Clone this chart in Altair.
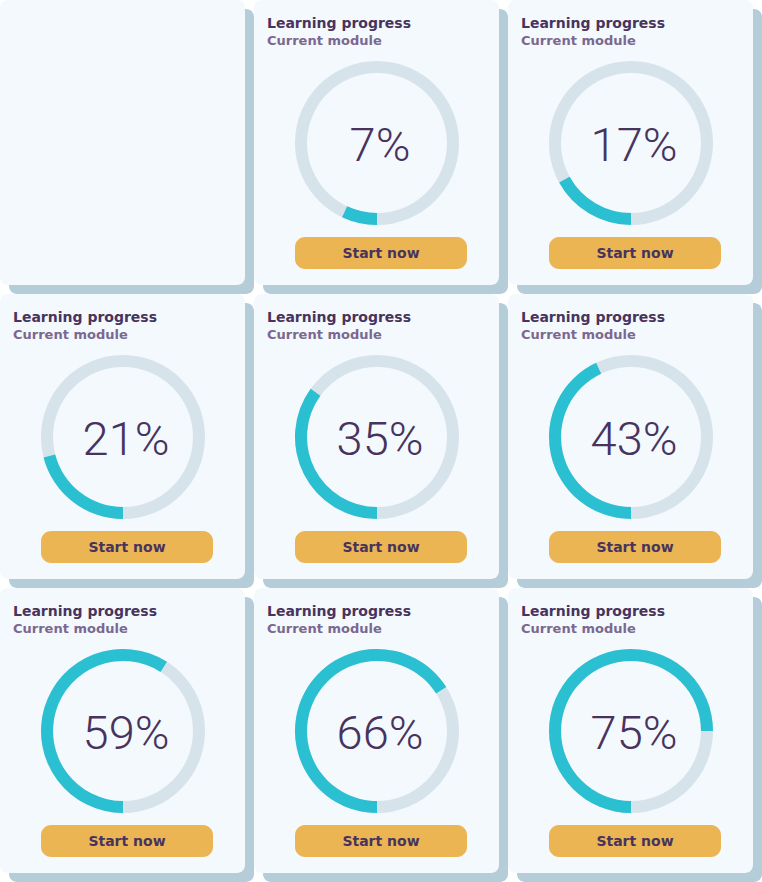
import math
import altair as alt
import pandas as pd

# ---- data -------------------------------------------------------------
card_values = [None, 7, 17, 21, 35, 43, 59, 66, 75]   # first card is empty
title_line1 = "Learning progress"
title_line2 = "Current module"
button_label = "Start now"

# ---- style ------------------------------------------------------------
CELL_W, CELL_H = 254, 294
CARD_W, CARD_H = 245, 285
SHADOW = 9
CARD_BG = "#f3f9fd"
SHADOW_C = "#b5cdd9"
RING_BG = "#d7e3ea"
RING_FG = "#2bbfd2"
DARK = "#48335e"
LIGHT = "#7b6891"
BTN = "#ebb554"
RING_CX, RING_CY = 123, 143
R_OUT, R_IN = 82, 70


def card(v):
    one = pd.DataFrame({"k": [0]})
    shadow = alt.Chart(one).mark_rect(color=SHADOW_C, cornerRadius=8).encode(
        x=alt.value(SHADOW), x2=alt.value(SHADOW + CARD_W),
        y=alt.value(SHADOW), y2=alt.value(SHADOW + CARD_H))
    bg = alt.Chart(one).mark_rect(color=CARD_BG, cornerRadius=8).encode(
        x=alt.value(0), x2=alt.value(CARD_W),
        y=alt.value(0), y2=alt.value(CARD_H))
    layers = [shadow, bg]
    if v is not None:
        df = pd.DataFrame({"value": [v], "label": [f"{v}%"],
                           "l1": [title_line1], "l2": [title_line2],
                           "btn": [button_label]})
        base = alt.Chart(df)
        ring_bg = base.mark_arc(theta=0, theta2=2 * math.pi, radius=R_OUT,
                                radius2=R_IN, color=RING_BG).encode(
            x=alt.value(RING_CX), y=alt.value(RING_CY))
        ring_fg = base.transform_calculate(
            a0="PI", a1="PI + datum.value / 100 * 2 * PI"
        ).mark_arc(radius=R_OUT, radius2=R_IN, color=RING_FG).encode(
            theta=alt.Theta("a0:Q", scale=None),
            theta2=alt.Theta2("a1:Q"),
            x=alt.value(RING_CX), y=alt.value(RING_CY))
        pct = base.mark_text(font="Roboto", fontSize=47, fontWeight=300,
                             color=DARK, align="center", baseline="alphabetic").encode(
            text="label:N", x=alt.value(RING_CX + 3), y=alt.value(161))
        t1 = base.mark_text(font="DejaVu Sans", fontSize=14, fontWeight="bold",
                            color=DARK, align="left", baseline="alphabetic").encode(
            text="l1:N", x=alt.value(13), y=alt.value(28))
        t2 = base.mark_text(font="DejaVu Sans", fontSize=13, fontWeight="bold",
                            color=LIGHT, align="left", baseline="alphabetic").encode(
            text="l2:N", x=alt.value(13), y=alt.value(45))
        btn = base.mark_rect(color=BTN, cornerRadius=10).encode(
            x=alt.value(41), x2=alt.value(213), y=alt.value(237), y2=alt.value(269))
        btn_t = base.mark_text(font="DejaVu Sans", fontSize=14, fontWeight="bold",
                               color=DARK, align="center", baseline="middle").encode(
            text="btn:N", x=alt.value(127), y=alt.value(254))
        layers += [ring_bg, ring_fg, pct, t1, t2, btn, btn_t]
    return alt.layer(*layers).properties(width=CELL_W, height=CELL_H)


rows = []
for r in range(3):
    rows.append(alt.hconcat(*[card(card_values[r * 3 + c]) for c in range(3)], spacing=0))

chart = alt.vconcat(*rows, spacing=0).properties(
    padding=0, background="#ffffff"
).configure_view(stroke=None)

chart.save("out.html", embed_options={"renderer": "svg", "actions": False})
